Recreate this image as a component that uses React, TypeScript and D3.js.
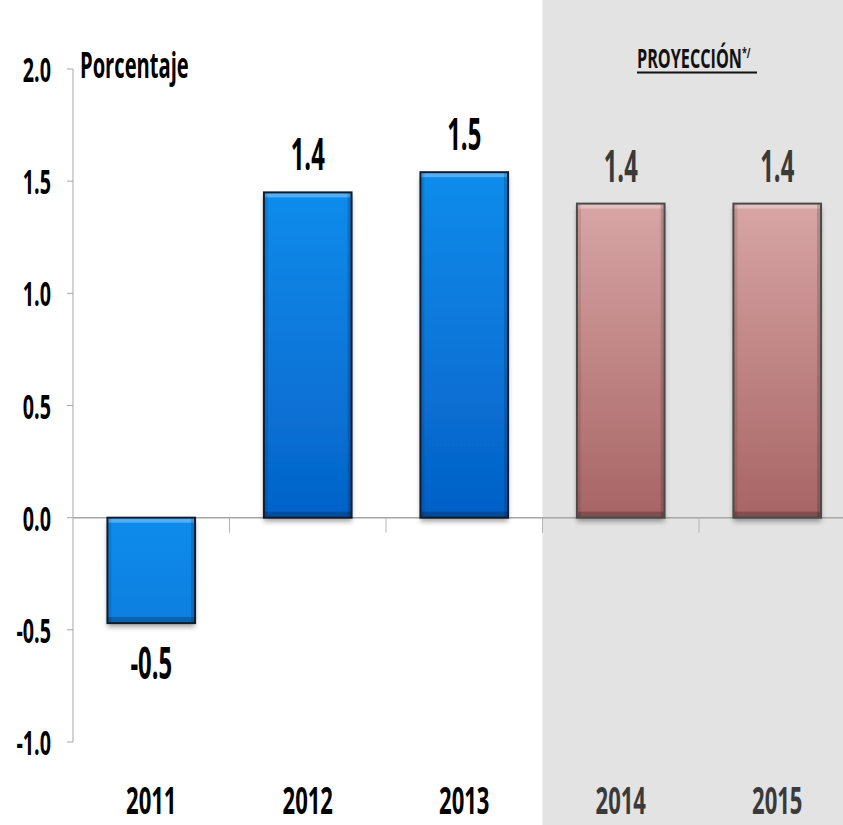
import * as d3 from "d3";

const years = ["2011", "2012", "2013", "2014", "2015"];
const growth = [-0.47, 1.45, 1.54, 1.4, 1.4];
const valueLabels = ["-0.5", "1.4", "1.5", "1.4", "1.4"];
const projected = [false, false, false, true, true];
const yTicks = [-1.0, -0.5, 0.0, 0.5, 1.0, 1.5, 2.0];

const W = 843,
  H = 825;
const FONT = "'Open Sans', 'Noto Sans', sans-serif";

const x = d3
  .scaleBand<string>()
  .domain(years)
  .range([73, 855.5])
  .paddingInner(0.44)
  .paddingOuter(0.22);
const y = d3.scaleLinear().domain([-1, 2]).range([742, 69]);

// bold text squeezed horizontally, the original looks like a condensed face
const Txt = ({ x0, y0, size, fill, anchor = "middle", sx = 0.6, children }: any) => (
  <g transform={`translate(${x0},${y0}) scale(${sx},1)`}>
    <text
      fontFamily={FONT}
      fontWeight={700}
      fontSize={size}
      fill={fill}
      textAnchor={anchor}
    >
      {children}
    </text>
  </g>
);

export default function App() {
  const step = x.step();
  const bw = x.bandwidth();
  const gap = (step - bw) / 2;
  const shadeX = (x("2014") as number) - gap;
  const zero = y(0);
  const span = y(0) - y(1.55);

  return (
    <svg
      width={W}
      height={H}
      style={{ position: "absolute", left: 0, top: 0, background: "#fff" }}
    >
      <defs>
        <filter id="shadow" x="-20%" y="-20%" width="140%" height="140%">
          <feDropShadow dx={0} dy={4} stdDeviation={2.5} floodColor="#000" floodOpacity={0.35} />
        </filter>
        {years.map((yr, i) => {
          const top = Math.min(y(growth[i]), zero);
          const c = projected[i]
            ? ["#d8a5a5", "#a25d5d"]
            : ["#0b8cec", "#0560c6"];
          return (
            <linearGradient
              key={yr}
              id={`g${yr}`}
              gradientUnits="userSpaceOnUse"
              x1={0}
              x2={0}
              y1={top}
              y2={top + span}
            >
              <stop offset="0%" stopColor={c[0]} />
              <stop offset="100%" stopColor={c[1]} />
            </linearGradient>
          );
        })}
      </defs>

      {/* projection shading */}
      <rect x={shadeX} y={0} width={W - shadeX} height={H} fill="#e3e3e3" />

      {/* y axis */}
      <line x1={73} x2={73} y1={y(2)} y2={y(-1)} stroke="#a6a6a6" strokeWidth={1} />
      {yTicks.map((t) => (
        <g key={t}>
          <line x1={67} x2={73} y1={y(t)} y2={y(t)} stroke="#a6a6a6" />
          <Txt x0={51} y0={y(t) + 13} size={34} sx={0.58} fill="#000" anchor="end">
            {t.toFixed(1)}
          </Txt>
        </g>
      ))}

      {/* zero line and category ticks */}
      <line x1={73} x2={W} y1={zero} y2={zero} stroke="#a6a6a6" strokeWidth={1.5} />
      {years.slice(1).map((yr) => (
        <line
          key={yr}
          x1={(x(yr) as number) - gap}
          x2={(x(yr) as number) - gap}
          y1={zero}
          y2={zero + 15}
          stroke="#b4b4b4"
        />
      ))}

      {/* bars */}
      {years.map((yr, i) => {
        const v = growth[i];
        const bx = x(yr) as number;
        const top = Math.min(y(v), zero);
        const h = Math.abs(y(v) - zero);
        const edge = projected[i] ? "#4a4a4a" : "#101c2e";
        return (
          <g key={yr}>
            <rect x={bx} y={top} width={bw} height={h} fill={`url(#g${yr})`} filter="url(#shadow)" />
            <rect x={bx} y={top} width={bw} height={5} fill="#fff" opacity={0.3} />
            <rect x={bx} y={top + h - 6} width={bw} height={6} fill="#000" opacity={0.22} />
            <rect x={bx} y={top} width={4} height={h} fill="#000" opacity={0.1} />
            <rect x={bx + bw - 4} y={top} width={4} height={h} fill="#000" opacity={0.16} />
            <rect x={bx} y={top} width={bw} height={h} fill="none" stroke={edge} strokeWidth={2} />
          </g>
        );
      })}

      {/* value labels */}
      {years.map((yr, i) => {
        const v = growth[i];
        const cx = (x(yr) as number) + bw / 2;
        const ly = v >= 0 ? y(v) - 22 : y(v) + 56;
        return (
          <Txt key={yr} x0={cx} y0={ly} size={45} sx={0.53} fill={projected[i] ? "#3a3a3a" : "#000"}>
            {valueLabels[i]}
          </Txt>
        );
      })}

      {/* category labels */}
      {years.map((yr, i) => (
        <Txt
          key={yr}
          x0={(x(yr) as number) + bw / 2}
          y0={814}
          size={38}
          sx={0.58}
          fill={projected[i] ? "#3a3a3a" : "#000"}
        >
          {yr}
        </Txt>
      ))}

      {/* unit label */}
      <Txt x0={80} y0={78} size={36} sx={0.56} fill="#000" anchor="start">
        Porcentaje
      </Txt>

      {/* projection title */}
      <g transform={`translate(637,68) scale(0.6,1)`}>
        <text fontFamily={FONT} fontWeight={700} fontSize={27} fill="#111" textAnchor="start">
          PROYECCIÓN
          <tspan fontSize={15} dy={-10}>*/</tspan>
        </text>
      </g>
      <line x1={637} x2={757} y1={72.5} y2={72.5} stroke="#111" strokeWidth={2} />
    </svg>
  );
}
